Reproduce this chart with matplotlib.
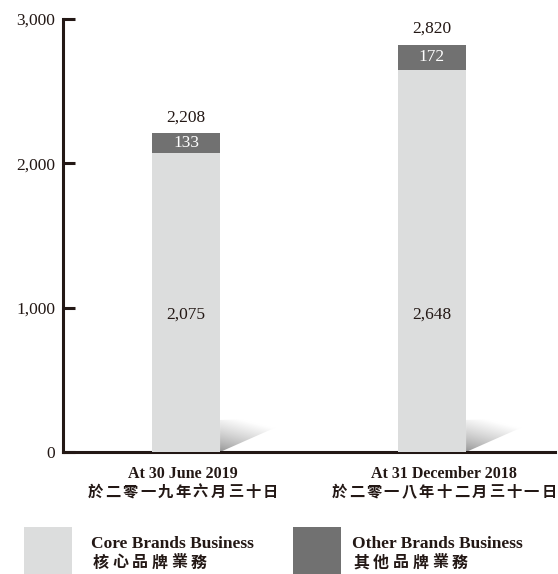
import numpy as np
import matplotlib
matplotlib.use("Agg")
import matplotlib.pyplot as plt
from matplotlib.patches import Rectangle, Polygon

# ---------------- data ----------------
categories_en = ["At 30 June 2019", "At 31 December 2018"]
categories_zh = ["於二零一九年六月三十日", "於二零一八年十二月三十一日"]
core_values = [2075, 2648]
other_values = [133, 172]
series_en = ["Core Brands Business", "Other Brands Business"]
series_zh = ["核心品牌業務", "其他品牌業務"]
yticks = [0, 1000, 2000, 3000]
ytick_labels = ["0", "1,000", "2,000", "3,000"]

# ---------------- style ----------------
W, H = 558, 574
DPI = 100
INK = "#231815"
LIGHT = "#dcdddd"
DARK = "#717171"
SERIF = ["Liberation Serif", "DejaVu Serif"]
CJK = ["Noto Sans CJK TC", "DejaVu Sans"]

fig = plt.figure(figsize=(W / DPI, H / DPI), dpi=DPI)
fig.patch.set_facecolor("white")

def fx(x):
    return x / W

def fy(y):
    return 1 - y / H

ax_left, ax_right, ax_bottom, ax_top = 63, 555, 452, 19
ax = fig.add_axes([fx(ax_left), fy(ax_bottom), (ax_right - ax_left) / W,
                   (ax_bottom - ax_top) / H])

x = np.array([0.5, 1.5])
bar_w = 0.277
core = np.array(core_values)
other = np.array(other_values)
totals = core + other

ax.bar(x, core, width=bar_w, color=LIGHT, zorder=3, linewidth=0)
ax.bar(x, other, bottom=core, width=bar_w, color=DARK, zorder=3, linewidth=0)

# shadows to the right of each bar
sh_w, sh_h1, sh_h2 = 0.322, 222, 243
for xi in x:
    x0 = xi + bar_w / 2
    poly = Polygon([(x0, 0), (x0, sh_h1), (x0 + sh_w, sh_h2)], closed=True,
                   transform=ax.transData, facecolor="none", edgecolor="none")
    ax.add_patch(poly)
    nu, nv = 200, 100
    u = np.linspace(0, 1, nu)[None, :]
    v = np.linspace(0, 1, nv)[:, None]
    d = np.clip(0.55 * u + 0.95 * v, 0, 1)
    g = 0.56 + 0.44 * d ** 0.75
    img = np.dstack([g, g, g])
    im = ax.imshow(img, extent=[x0, x0 + sh_w, 0, sh_h2], origin="lower",
                   aspect="auto", zorder=1, interpolation="bilinear")
    im.set_clip_path(poly)

ax.set_xlim(0, 2)
ax.set_ylim(0, 3000)

# value labels
for xi, c, o, t in zip(x, core, other, totals):
    ax.text(xi, 950, f"{c:,}", ha="center", va="center", fontsize=12.5,
            family=SERIF, color=INK, zorder=5)
    ax.text(xi, c + o / 2, f"{o:,}", ha="center", va="center", fontsize=12.5,
            family=SERIF, color="white", zorder=5)
    ax.annotate(f"{t:,}", xy=(xi, t), xytext=(0, 16), textcoords="offset pixels",
                ha="center", va="center", fontsize=12.5, family=SERIF, color=INK)

# axes styling
for s in ["top", "right"]:
    ax.spines[s].set_visible(False)
for s in ["left", "bottom"]:
    ax.spines[s].set_linewidth(2.2)
    ax.spines[s].set_color(INK)
ax.set_yticks(yticks)
ax.set_yticklabels(ytick_labels, family=SERIF, fontsize=12.5, color=INK)
ax.tick_params(axis="y", direction="in", length=8.6, width=2.2, color=INK, pad=5.5)
ax.set_xticks([])

# category labels
def spaced(xc, yc, s, pitch, fontsize, weight="bold", align="center"):
    n = len(s)
    for i, ch in enumerate(s):
        if align == "center":
            off = (i - (n - 1) / 2) * pitch
        else:
            off = (i + 0.5) * pitch
        fig.text(fx(xc + off), fy(yc), ch, ha="center", va="center",
                 fontsize=fontsize, family=CJK, weight=weight, color=INK)

cat_x = [183, 444]
for cx, en, zh in zip(cat_x, categories_en, categories_zh):
    fig.text(fx(cx), fy(478), en, ha="center", va="baseline", fontsize=11.5,
             weight="bold", family=SERIF, color=INK)
    spaced(cx, 491.5, zh, 17.5, 11, weight="bold")

# legend
leg_sq_x = [24, 293]
leg_txt_x = [91, 352]
for sx, tx, col, en, zh in zip(leg_sq_x, leg_txt_x, [LIGHT, DARK], series_en, series_zh):
    fig.patches.append(Rectangle((fx(sx), fy(576)), 48 / W, 49 / H,
                                 transform=fig.transFigure, facecolor=col,
                                 edgecolor="none"))
    fig.text(fx(tx), fy(548), en, ha="left", va="baseline", fontsize=12.5,
             weight="bold", family=SERIF, color=INK)
    spaced(tx, 562.5, zh, 19.5, 11.5, weight="bold", align="left")

fig.savefig("out.png", dpi=DPI, facecolor="white")
